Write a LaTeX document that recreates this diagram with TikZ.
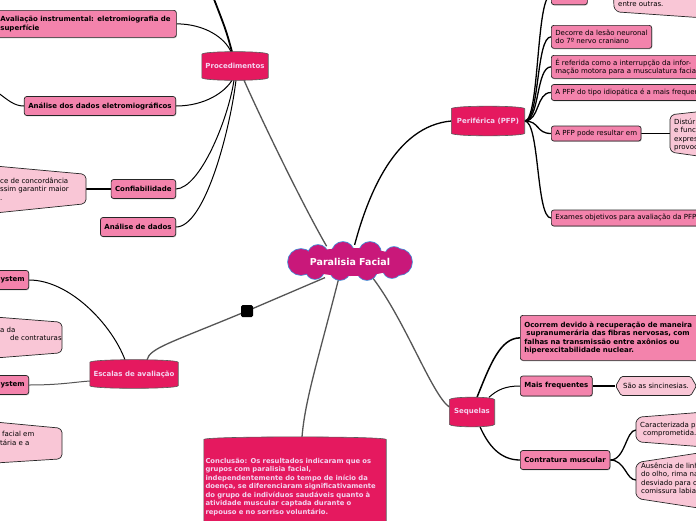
\documentclass[tikz,border=0pt]{standalone}
\usepackage{fontspec}
\setmainfont{DejaVu Sans}
\usepackage{tikz}
\usetikzlibrary{arrows.meta, calc, shapes.geometric, shapes.symbols, backgrounds, shadows}

\definecolor{cloudfill}{RGB}{201,24,122}
\definecolor{cloudline}{RGB}{74,140,214}
\definecolor{topicfill}{RGB}{229,25,95}
\definecolor{topictext}{RGB}{243,212,240}
\definecolor{subfill}{RGB}{243,131,172}
\definecolor{notefill}{RGB}{249,198,214}
\definecolor{linkgray}{RGB}{85,85,85}

% barrel outline behind a main topic
\newcommand{\topicbarrel}[1]{%
  \filldraw[fill=topicfill, draw=black!65, line width=0.6pt]
    ([yshift=-2.5pt]#1.north west) .. controls ([yshift=1pt]#1.north west) and ([yshift=1pt]#1.north east) .. ([yshift=-2.5pt]#1.north east)
    -- ([yshift=2.5pt]#1.south east) .. controls ([yshift=-1pt]#1.south east) and ([yshift=-1pt]#1.south west) .. ([yshift=2.5pt]#1.south west) -- cycle;}

\begin{document}
\begin{tikzpicture}[x=1pt, y=-1pt,
  every node/.style={font=\fontsize{7}{8.5}\selectfont},
  central/.style={ellipse, text=white, font=\fontsize{9.5}{11}\selectfont\bfseries, inner sep=0pt,
    minimum width=118pt, minimum height=34pt},
  topic/.style={text=topictext, font=\fontsize{7}{8.5}\selectfont\bfseries, inner sep=0pt},
  subbox/.style={draw=black!85, fill=subfill, line width=0.7pt, rounded corners=2.5pt, inner xsep=4pt, inner ysep=2pt,
    minimum height=16pt, drop shadow={shadow xshift=0.6pt, shadow yshift=-0.9pt, opacity=0.4}},
  strong/.style={font=\fontsize{7}{8.5}\selectfont\bfseries, minimum height=19pt},
  note/.style={fill=notefill, draw=black!85, line width=0.7pt, rounded corners=1.5pt},
  notetext/.style={anchor=north west, align=left, inner sep=0pt},
  link/.style={draw=linkgray, line width=1.3pt},
  branch/.style={draw=black, line width=1pt},
]
\useasboundingbox (0,0) rectangle (696,520);

% Central topic
\node[central] (pf) at (350,262) {Paralisia Facial};

% Main topics
\node[topic, minimum width=66pt, minimum height=28pt] (pr) at (235,66) {Procedimentos};
\node[topic, minimum width=73pt, minimum height=29pt] (pe) at (488,121) {Periférica (PFP)};
\node[topic, minimum width=88pt, minimum height=28pt] (es) at (134,374) {Escalas de avaliação};
\node[topic, minimum width=45pt, minimum height=29pt] (sq) at (472,412) {Sequelas};
\node[topic, font=\fontsize{6.8}{8.5}\selectfont\bfseries, anchor=north, minimum width=182pt, text width=179pt, align=left,
  inner xsep=1.5pt, inner ysep=21pt] (co) at (295,437)
  {Conclusão: Os resultados indicaram que os\\grupos com paralisia facial,\\independentemente do tempo de início da\\doença, se diferenciaram significativamente\\do grupo de indivíduos saudáveis quanto à\\atividade muscular captada durante o\\repouso e no sorriso voluntário.};
\node[fill=black, rounded corners=1.5pt, minimum size=12pt, inner sep=0pt] (mk) at (247,311) {};

% Procedimentos
\node[subbox, strong, anchor=north west, text width=172pt, align=left, minimum height=27pt] (ai) at (-4,10)
  {Avaliação instrumental: eletromiografia de\\superfície};
\node[subbox, strong, anchor=east] (ade) at (176,106) {Análise dos dados eletromiográficos};
\node[subbox, strong, anchor=east] (cf) at (176,189) {Confiabilidade};
\node[subbox, strong, anchor=east] (ad) at (176,227) {Análise de dados};
\node[notetext] (cfn) at (0,177.5) {ce de concordância\\ssim garantir maior\\.};
\coordinate (ptop) at (212,-6);
\coordinate (pleft) at (-3,92);
\coordinate (cfpt) at (86,189);

% Escalas de avaliacao
\node[subbox, strong, anchor=east] (sy1) at (29,280) {System};
\node[subbox, strong, anchor=east] (sy2) at (29,385) {System};
\node[notetext] (esa) at (0,326.5) {a da\\\hspace*{10pt}de contraturas};
\node[notetext] (esb) at (0,431) {\hspace*{2pt}facial em\\tária e a};

% Periferica
\node[subbox, anchor=south west, minimum width=36pt, minimum height=19pt] (pt) at (551,5) {};
\node[subbox, anchor=north west, align=left, minimum height=23pt] (dc) at (551,25) {Decorre da lesão neuronal\\do 7º nervo craniano};
\node[subbox, anchor=north west, align=left, minimum height=23pt] (rf) at (551,55)
  {É referida como a interrupção da infor-\\mação motora para a musculatura facial};
\node[subbox, anchor=west] (id) at (551,92.5) {A PFP do tipo idiopática é a mais frequente};
\node[subbox, anchor=west, minimum height=15pt] (rs) at (551,133.5) {A PFP pode resultar em};
\node[subbox, anchor=west] (ex) at (551,218) {Exames objetivos para avaliação da PFP};
\node[notetext] (eo) at (618,1.5) {entre outras.};
\node[notetext] (ds) at (674,118.5) {Distúr\\e func\\expres\\provoc};
\coordinate (dspt) at (670,133.5);

% Sequelas
\node[subbox, strong, anchor=north west, text width=176pt, align=left, minimum height=45pt] (oc) at (520,315)
  {Ocorrem devido à recuperação de maneira\\\hspace*{2pt}supranumerária das fibras nervosas, com\\falhas na transmissão entre axônios ou\\hiperexcitabilidade nuclear.};
\node[subbox, strong, anchor=west, minimum height=20pt] (mf) at (520,386) {Mais frequentes};
\node[note, shape=signal, signal to=west and east, signal pointer angle=120, minimum height=19pt, inner xsep=2pt] (ss) at (656,386) {São as sincinesias.};
\node[subbox, strong, anchor=west] (ct) at (520,460) {Contratura muscular};
\node[notetext] (ca) at (640,421.5) {Caracterizada p\\\hspace*{3pt}comprometida.};
\node[notetext] (au) at (641,462.5) {Ausência de linh\\do olho, rima na\\desviado para o\\comissura labial};
\coordinate (ssend) at (704,386);
\coordinate (capt) at (636,430);
\coordinate (aupt) at (636,480);

\begin{scope}[on background layer]
\fill[white] (0,0) rectangle (696,520);

% links from the central topic
\draw[link] (pf.146) .. controls (300,200) and (258,112) .. ([xshift=9pt]pr.south);
\draw[link, draw=black] (pf.75) .. controls (368,195) and (395,126) .. (pe.west);
\draw[link] (pf.212) -- (mk.center) .. controls (170,343) and (150,348) .. ([xshift=13pt]es.north);
\draw[link] (pf.236) .. controls (318,360) and (305,400) .. ([xshift=7pt]co.north);
\draw[link] (pf.325) .. controls (405,320) and (432,395) .. ([yshift=5pt]sq.west);

% Procedimentos
\draw[branch] (ai.east) .. controls (205,24) and (225,38) .. ([xshift=-4pt]pr.north);
\draw[branch, line width=1.8pt] ([xshift=-3pt]pr.north) .. controls (226,30) .. (ptop);
\draw[branch] (ade.east) .. controls (205,106) and (225,92) .. ([xshift=-3pt]pr.south);
\draw[branch] (ade.west) .. controls (14,106) and (8,100) .. (pleft);
\draw[branch] (cf.east) .. controls (200,188) and (228,120) .. ([xshift=-1pt]pr.south);
\draw[branch] (ad.east) .. controls (205,227) and (230,130) .. ([xshift=1pt]pr.south);
\draw[branch, line width=1.5pt] (cf.west) -- (cfpt);

% Escalas de avaliacao
\draw[branch] (sy1.east) .. controls (70,280) and (112,325) .. ([xshift=-9pt]es.north);
\draw[branch, draw=linkgray] (sy2.east) .. controls (60,385) and (75,382) .. ([yshift=-7pt]es.west);

% Periferica
\foreach \t in {pt,dc,rf,id,rs,ex}
  \draw[branch, line width=1.3pt] (pe.east) .. controls +(15,0) and +(-15,0) .. (\t.west);
\draw[branch, line width=1.5pt] (rs.east) -- (dspt);

% Sequelas
\draw[branch, line width=1.5pt] ([xshift=5pt]sq.north) .. controls (490,365) and (500,338) .. (oc.west);
\draw[branch] ([xshift=17pt]sq.north) .. controls (497,390) and (505,386) .. (mf.west);
\draw[branch, line width=1.3pt] ([xshift=8pt]sq.south) .. controls (488,445) and (500,460) .. (ct.west);
\draw[branch, line width=1.5pt] (mf.east) -- (ss.west);
\draw[branch, line width=1.5pt] (ss.east) -- (ssend);
\draw[branch, line width=1.3pt] (ct.east) .. controls +(15,0) and +(-10,0) .. (capt);
\draw[branch, line width=1.3pt] (ct.east) .. controls +(15,0) and +(-10,0) .. (aupt);

% callouts
\filldraw[note] (-5,166) -- (83,174) -- (86,177) -- (86,201) -- (83,204) -- (-5,213) -- cycle;
\filldraw[note] (-5,317) -- (59,322) -- (62,325) -- (62,350) -- (59,353) -- (-5,358) -- cycle;
\filldraw[note] (-5,422) -- (59,428) -- (62,431) -- (62,456) -- (59,459) -- (-5,463) -- cycle;
\filldraw[note] (613,-20) -- (705,-20) -- (705,18) -- (618,12) -- (614,8) -- cycle;
\filldraw[note] (670,118) -- (673,114.5) -- (705,111) -- (705,157) -- (673,152.5) -- (670,149) -- cycle;
\filldraw[note] (636,421) -- (640,417) -- (705,412) -- (705,447) -- (640,442) -- (636,438) -- cycle;
\filldraw[note] (636,466) -- (640,462) -- (705,452) -- (705,509) -- (640,499) -- (636,495) -- cycle;

% cloud behind the central topic
\foreach \cx/\cy/\r in {301/262/13, 318/255/10, 343/253/11, 370/253/11, 394/256/9,
                        399/262/13, 392/269/9, 367/270/10, 340/270/10, 315/270/9}
  \filldraw[fill=cloudfill, draw=cloudline, line width=1.6pt] (\cx,\cy) circle (\r pt);
\foreach \cx/\cy/\r in {301/262/13, 318/255/10, 343/253/11, 370/253/11, 394/256/9,
                        399/262/13, 392/269/9, 367/270/10, 340/270/10, 315/270/9}
  \fill[cloudfill] (\cx,\cy) circle (\r pt);
\fill[cloudfill] (350,262) ellipse [x radius=52pt, y radius=14pt];

% main topic shapes
\topicbarrel{pr}
\topicbarrel{pe}
\topicbarrel{es}
\topicbarrel{sq}
\topicbarrel{co}
\end{scope}
\end{tikzpicture}
\end{document}
